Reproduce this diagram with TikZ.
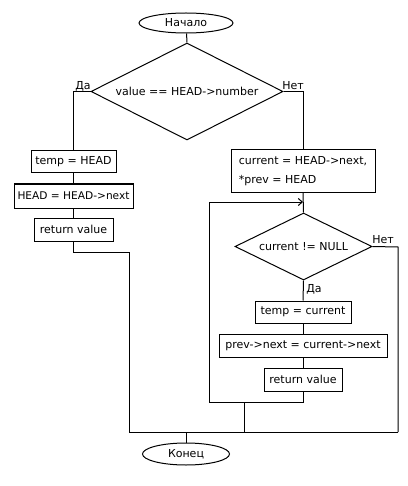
\documentclass[tikz,border=0pt]{standalone}
\usepackage{fontspec}
\setmainfont{DejaVu Sans}
\usetikzlibrary{shapes.geometric,arrows.meta}
\begin{document}
\begin{tikzpicture}[x=1pt,y=-1pt,
  every node/.style={font=\fontsize{11}{13}\selectfont},
  line/.style={draw=black,line width=1pt},
  term/.style={ellipse,draw,line width=1pt,inner sep=0pt},
  procbox/.style={rectangle,draw,line width=1pt,inner xsep=3pt,inner ysep=0pt},
  cond/.style={diamond,draw,line width=1pt,inner sep=0pt,aspect=2},
  lbl/.style={inner sep=0pt}]
\useasboundingbox (0,0) rectangle (407,486);
% nodes
\node[term,minimum width=94,minimum height=20] (start) at (186,23) {Начало};
\node[cond,minimum width=192,minimum height=97] (d1) at (187,91.5) {value == HEAD->number};
\node[procbox,minimum width=85,minimum height=22] (b1) at (73.5,162) {temp = HEAD};
\node[procbox,minimum width=119,minimum height=24,font=\fontsize{10.6}{13}\selectfont] (b2) at (73.5,196) {HEAD = HEAD->next};
\node[procbox,minimum width=79,minimum height=23] (b3) at (73.5,229.5) {return value};
\node[procbox,minimum width=144,minimum height=42,align=left,font=\fontsize{11}{19}\selectfont] (c1) at (303,171) {current = HEAD->next,\\*prev = HEAD};
\node[cond,minimum width=137,minimum height=67] (d2) at (303.5,246.5) {current != NULL};
\node[procbox,minimum width=96,minimum height=22] (c2) at (303,312) {temp = current};
\node[procbox,minimum width=168,minimum height=23] (c3) at (303,345.5) {prev->next = current->next};
\node[procbox,minimum width=78,minimum height=23] (c4) at (303,379.5) {return value};
\node[term,minimum width=87,minimum height=22] (stop) at (186,454) {Конец};
% labels
\node[lbl] (yes1) at (83,86) {Да};
\node[lbl] (no1) at (293,86) {Нет};
\node[lbl] (no2) at (383,240) {Нет};
\node[lbl] (yes2) at (314,289) {Да};
% coordinates
\coordinate (lA) at (73.5,252);
\coordinate (lB) at (129,252);
\coordinate (bl) at (129,432);
\coordinate (br) at (398,432);
\coordinate (rt) at (398,247);
\coordinate (loopbot) at (303,402);
\coordinate (loopL) at (209,402);
\coordinate (loopT) at (209,202);
\coordinate (arr) at (303,202);
\coordinate (mid) at (244,402);
\coordinate (midb) at (244,432);
\coordinate (endtop) at (186,432);
% connectors
\draw[line] (start) -- (d1.north);
\draw[line] (d1.west) -| (b1.north);
\draw[line] (d1.east) -| (c1.north);
\draw[line] (b1) -- (b2);
\draw[line] (b2) -- (b3);
\draw[line] (b3.south) -- (lA) -- (lB) -- (bl);
\draw[line] (c1.south) -- (d2.north);
\draw[line] (d2.south) -- (c2.north);
\draw[line] (c2) -- (c3);
\draw[line] (c3) -- (c4);
\draw[line,-{Straight Barb[length=4pt,width=7pt]}] (c4.south) -- (loopbot) -- (loopL) -- (loopT) -- (arr);
\draw[line] (d2.east) -- (rt) -- (br);
\draw[line] (mid) -- (midb);
\draw[line] (bl) -- (br);
\draw[line] (endtop) -- (stop.north);
\end{tikzpicture}
\end{document}
